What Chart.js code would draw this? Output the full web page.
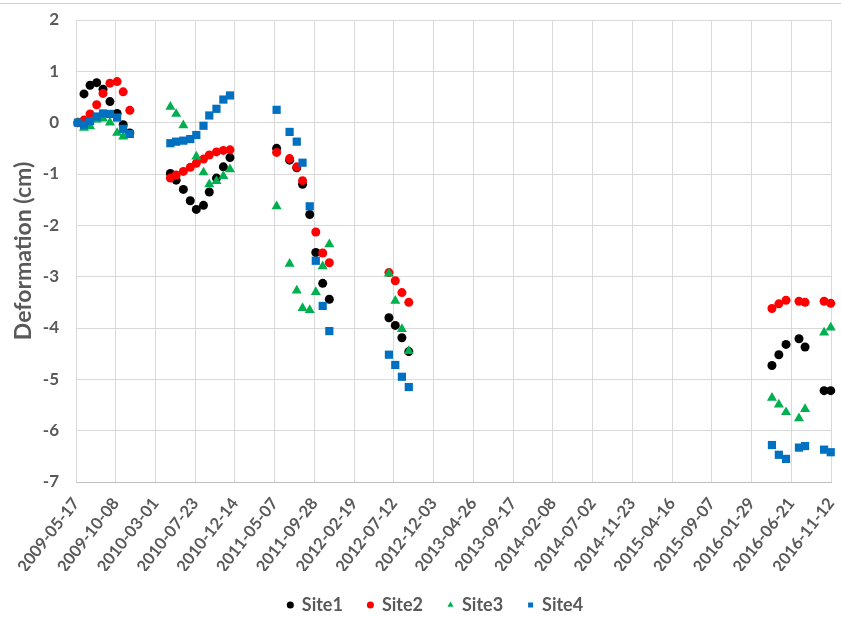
<!DOCTYPE html>
<html>
<head>
<meta charset="utf-8">
<script src="https://cdn.jsdelivr.net/npm/chart.js@4.4.0/dist/chart.umd.min.js"></script>
<style>
  html, body { margin: 0; padding: 0; background: #fff; }
  #wrap { width: 841px; height: 619px; }
</style>
</head>
<body>
<div id="wrap"><canvas id="deformation"></canvas></div>
<script>
// acquisition dates
var dates = [
    '2009-05-24', '2009-06-15', '2009-07-07', '2009-07-31', '2009-08-23', '2009-09-17', '2009-10-13', '2009-11-04', '2009-11-28',
    '2010-04-24', '2010-05-15', '2010-06-10', '2010-07-05', '2010-07-27', '2010-08-22', '2010-09-12', '2010-10-08', '2010-11-02', '2010-11-26',
    '2011-05-14', '2011-06-30', '2011-07-26', '2011-08-16', '2011-09-11', '2011-10-03', '2011-10-28', '2011-11-21',
    '2012-06-24', '2012-07-17', '2012-08-10', '2012-09-04',
    '2016-04-12', '2016-05-07', '2016-06-02', '2016-07-19', '2016-08-10', '2016-10-18', '2016-11-11'
];

// deformation in cm (null = no point visible)
var site1 = [0, 0.56, 0.73, 0.78, 0.65, 0.41, 0.18, -0.04, -0.2,
    -0.99, -1.12, -1.3, -1.52, -1.69, -1.61, -1.35, -1.08, -0.86, -0.68,
    -0.5, -0.73, -0.88, -1.2, -1.79, -2.53, -3.13, -3.44,
    -3.8, -3.95, -4.19, -4.46,
    -4.73, -4.52, -4.32, -4.21, -4.37, -5.22, -5.22];
var site2 = [0, 0.05, 0.17, 0.35, 0.57, 0.77, 0.8, 0.6, 0.24,
    -1.08, -1.02, -0.95, -0.87, -0.79, -0.71, -0.63, -0.57, -0.54, -0.53,
    -0.58, -0.7, -0.86, -1.13, null, -2.13, -2.54, -2.73,
    -2.92, -3.08, -3.31, -3.5,
    -3.62, -3.53, -3.46, -3.48, -3.5, -3.48, -3.52];
var site3 = [0, -0.1, -0.07, 0.06, 0.08, 0.0, -0.2, -0.27, null,
    0.31, 0.17, -0.05, null, -0.66, -0.97, -1.2, -1.14, -1.04, -0.91,
    -1.63, -2.75, -3.27, -3.61, -3.65, -3.3, -2.8, -2.37,
    -2.94, -3.47, -4.02, -4.45,
    -5.36, -5.49, -5.64, -5.76, -5.58, -4.09, -3.99];
var site4 = [0, -0.04, 0.03, 0.12, 0.18, 0.17, 0.1, -0.12, -0.22,
    -0.4, -0.37, -0.35, -0.32, -0.24, -0.06, 0.14, 0.27, 0.45, 0.53,
    0.25, -0.18, -0.37, -0.78, -1.63, -2.69, -3.57, -4.06,
    -4.52, -4.72, -4.95, -5.15,
    -6.28, -6.47, -6.55, -6.33, -6.3, -6.37, -6.42];

// x axis tick labels (every 144 days)
var tickLabels = ['2009-05-17', '2009-10-08', '2010-03-01', '2010-07-23', '2010-12-14', '2011-05-07',
    '2011-09-28', '2012-02-19', '2012-07-12', '2012-12-03', '2013-04-26', '2013-09-17', '2014-02-08',
    '2014-07-02', '2014-11-23', '2015-04-16', '2015-09-07', '2016-01-29', '2016-06-21', '2016-11-12'];

function toTime(d) {
    return Date.parse(d);
}

function points(values) {
    var out = [];
    for (var i = 0; i < dates.length; i++) {
        if (values[i] !== null) out.push({x: toTime(dates[i]), y: values[i]});
    }
    return out;
}

var textColor = '#595959';
var gridColor = '#d9d9d9';

// white background, top border line, legend nudged right like the original
var frame = {
    id: 'frame',
    beforeDraw: function(chart) {
        var ctx = chart.ctx;
        ctx.save();
        ctx.fillStyle = '#fff';
        ctx.fillRect(0, 0, chart.width, chart.height);
        ctx.strokeStyle = '#d0d0d0';
        ctx.lineWidth = 1;
        ctx.beginPath();
        ctx.moveTo(0, 3.5);
        ctx.lineTo(chart.width, 3.5);
        ctx.stroke();
        ctx.restore();
    },
    afterLayout: function(chart) {
        chart.legend.left += 20;
        chart.legend.right += 20;
    }
};

var chart_deformation = document.getElementById('deformation');

let chartDeformation = new Chart(chart_deformation, {
    type: 'scatter',
    data: {
        datasets: [{
            label: 'Site1',
            data: points(site1),
            pointStyle: 'circle',
            radius: 4.5,
            backgroundColor: '#000000',
            borderColor: '#000000',
            borderWidth: 0,
            order: 4,
            clip: false
        }, {
            label: 'Site2',
            data: points(site2),
            pointStyle: 'circle',
            radius: 4.5,
            backgroundColor: '#ff0000',
            borderColor: '#ff0000',
            borderWidth: 0,
            order: 3,
            clip: false
        }, {
            label: 'Site3',
            data: points(site3),
            pointStyle: 'triangle',
            radius: 5.8,
            backgroundColor: '#00b050',
            borderColor: '#00b050',
            borderWidth: 0,
            order: 2,
            clip: false
        }, {
            label: 'Site4',
            data: points(site4),
            pointStyle: 'rect',
            radius: 5.8,
            backgroundColor: '#0070c0',
            borderColor: '#0070c0',
            borderWidth: 0,
            order: 1,
            clip: false
        }]
    },
    options: {
        responsive: true,
        maintainAspectRatio: false,
        animation: false,
        layout: {
            padding: {top: 20, right: 10, left: 0, bottom: -5}
        },
        plugins: {
            legend: {
                position: 'bottom',
                labels: {
                    usePointStyle: true,
                    boxWidth: 5,
                    boxHeight: 5,
                    padding: 25,
                    color: textColor,
                    font: {family: 'Lato', size: 18, weight: 'bold'},
                    sort: function(a, b) { return a.datasetIndex - b.datasetIndex; }
                }
            },
            tooltip: {enabled: false}
        },
        scales: {
            x: {
                type: 'linear',
                min: toTime(tickLabels[0]),
                max: toTime(tickLabels[tickLabels.length - 1]),
                afterBuildTicks: function(scale) {
                    scale.ticks = tickLabels.map(function(d) { return {value: toTime(d)}; });
                },
                afterFit: function(scale) {
                    scale.height = 89;
                    scale.paddingLeft = 0;
                    scale.paddingRight = 0;
                },
                grid: {color: gridColor, drawTicks: false},
                border: {color: '#bfbfbf'},
                ticks: {
                    autoSkip: false,
                    maxRotation: 52,
                    minRotation: 52,
                    padding: 12,
                    color: textColor,
                    font: {family: 'Lato', size: 16.5, weight: 'bold'},
                    callback: function(value, index) {
                        return tickLabels[index];
                    }
                }
            },
            y: {
                min: -7,
                max: 2,
                afterFit: function(scale) {
                    scale.width = 76;
                    scale.paddingTop = 0;
                    scale.paddingBottom = 0;
                },
                grid: {color: gridColor, drawTicks: false},
                border: {color: gridColor},
                ticks: {
                    stepSize: 1,
                    padding: 17,
                    color: textColor,
                    font: {family: 'Lato', size: 17, weight: 'bold'}
                },
                title: {
                    display: true,
                    text: 'Deformation (cm)',
                    color: textColor,
                    padding: {top: 10, bottom: 0},
                    font: {family: 'Lato', size: 23, weight: 'bold'}
                }
            }
        }
    },
    plugins: [frame]
});
</script>
</body>
</html>
